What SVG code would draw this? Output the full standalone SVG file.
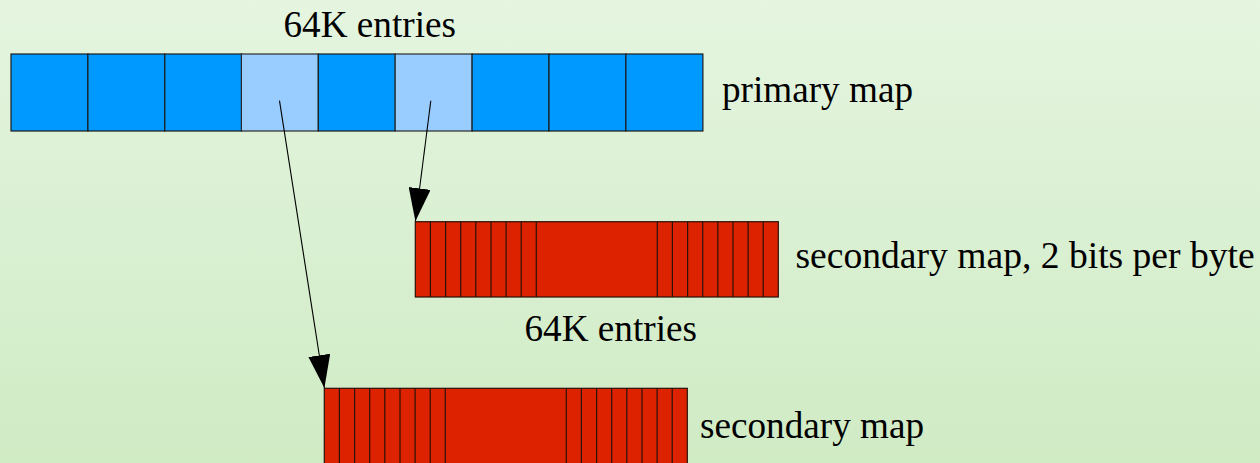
<svg xmlns="http://www.w3.org/2000/svg" width="1260" height="463" viewBox="0 0 1260 463">
<defs>
<linearGradient id="bg" x1="0" y1="0" x2="0" y2="1">
<stop offset="0" stop-color="#e5f5e0"/>
<stop offset="1" stop-color="#cfebc4"/>
</linearGradient>
<marker id="ah" markerUnits="userSpaceOnUse" viewBox="0 0 33 22" refX="33" refY="11" markerWidth="33" markerHeight="22" orient="auto">
<path d="M0,0 L33,11 L0,22 Z" fill="#000"/>
</marker>
<style>
.lbl{font-family:"Liberation Serif","Times New Roman",serif;font-size:37.2px;fill:#000}
.b{fill:#0099ff;stroke:#1c1c1c;stroke-width:1.2}
.lb{fill:#99ccff;stroke:#2a2a2a;stroke-width:1.2}
.r{fill:#dd2200;stroke:#2a1208;stroke-width:1.2}
.d{stroke:#2a1208;stroke-width:1.2}
.con{stroke:#000;stroke-width:1.1;fill:none}
</style>
</defs>
<rect x="0" y="0" width="1260" height="463" fill="url(#bg)"/>

<g id="primary-map">
<rect class="b" x="11" y="54" width="76.9" height="77"/>
<rect class="b" x="87.9" y="54" width="76.9" height="77"/>
<rect class="b" x="164.8" y="54" width="76.9" height="77"/>
<rect class="lb" x="241.4" y="54" width="76.9" height="77"/>
<rect class="b" x="318.3" y="54" width="76.9" height="77"/>
<rect class="lb" x="395.2" y="54" width="76.9" height="77"/>
<rect class="b" x="472.1" y="54" width="76.9" height="77"/>
<rect class="b" x="549" y="54" width="76.9" height="77"/>
<rect class="b" x="625.9" y="54" width="77" height="77"/>
</g>

<g id="secondary-map-1">
<rect class="r" x="415.3" y="221.7" width="363" height="75.3"/>
<path class="d" d="M430.4,221.7V297M445.6,221.7V297M460.7,221.7V297M475.8,221.7V297M491,221.7V297M506.1,221.7V297M521.2,221.7V297M536.3,221.7V297M657.3,221.7V297M672.4,221.7V297M687.6,221.7V297M702.7,221.7V297M717.8,221.7V297M733,221.7V297M748.1,221.7V297M763.2,221.7V297"/>
</g>

<g id="secondary-map-2">
<rect class="r" x="324.3" y="388.3" width="363" height="75.3"/>
<path class="d" d="M339.4,388.3V464M354.6,388.3V464M369.7,388.3V464M384.8,388.3V464M400,388.3V464M415.1,388.3V464M430.2,388.3V464M445.3,388.3V464M566.3,388.3V464M581.4,388.3V464M596.6,388.3V464M611.7,388.3V464M626.8,388.3V464M642,388.3V464M657.1,388.3V464M672.2,388.3V464"/>
</g>

<g id="connectors">
<line class="con" x1="279.5" y1="100.7" x2="324.4" y2="388" marker-end="url(#ah)"/>
<line class="con" x1="430.8" y1="100.7" x2="415.4" y2="221.2" marker-end="url(#ah)"/>
</g>

<g id="labels">
<text class="lbl" x="283.5" y="36.7">64K entries</text>
<text class="lbl" x="722" y="101.7">primary map</text>
<text class="lbl" x="795.5" y="267.7" style="font-size:37.6px">secondary map, 2 bits per byte</text>
<text class="lbl" x="524.5" y="340.7">64K entries</text>
<text class="lbl" x="700" y="437.7">secondary map</text>
</g>
</svg>
